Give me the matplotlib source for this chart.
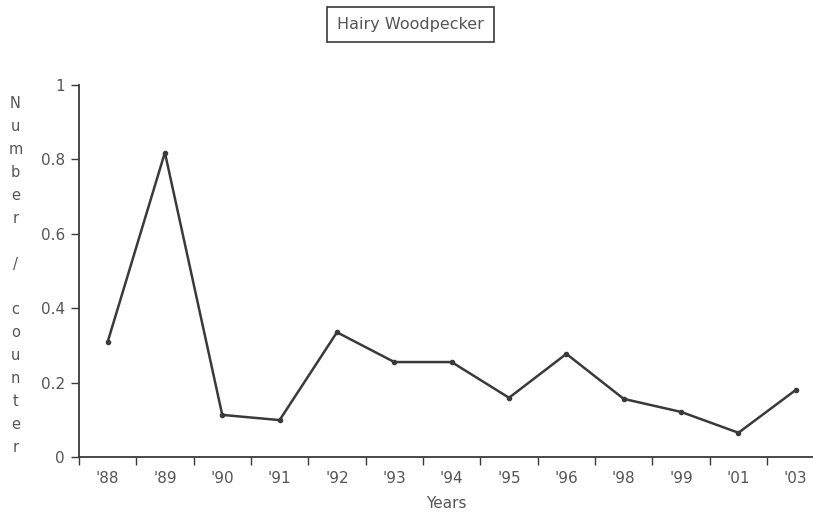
import matplotlib.pyplot as plt
from matplotlib.ticker import FixedLocator

years = ["'88", "'89", "'90", "'91", "'92", "'93", "'94", "'95", "'96", "'98", "'99", "'01", "'03"]
counts = [0.308, 0.818, 0.113, 0.099, 0.335, 0.255, 0.255, 0.159, 0.277, 0.156, 0.121, 0.065, 0.180]
y_ticks = [0, 0.2, 0.4, 0.6, 0.8, 1]
y_tick_labels = ["0", "0.2", "0.4", "0.6", "0.8", "1"]

ink = '#3a3a3a'
text_col = '#555555'

fig = plt.figure(figsize=(8.13, 5.14), dpi=100)
ax = fig.add_axes([0.097, 0.111, 0.903, 0.724])

x = list(range(len(years)))
ax.plot(x, counts, color=ink, linewidth=1.8, marker='o', markersize=3)

ax.set_xlim(-0.5, 12.3)
ax.set_ylim(0, 1)

# category labels in the middle, tick marks on the boundaries
ax.set_xticks(x)
ax.set_xticklabels(years, fontsize=11, color=text_col)
ax.tick_params(axis='x', which='major', length=0, pad=10)
ax.xaxis.set_minor_locator(FixedLocator([i - 0.5 for i in range(len(years) + 1)]))
ax.tick_params(axis='x', which='minor', length=6, width=1, color=ink, direction='out')

ax.set_yticks(y_ticks)
ax.set_yticklabels(y_tick_labels, fontsize=11, color=text_col)
ax.tick_params(axis='y', length=6, width=1, color=ink, direction='out', pad=4)

for side in ['top', 'right']:
    ax.spines[side].set_visible(False)
for side in ['left', 'bottom']:
    ax.spines[side].set_color(ink)
    ax.spines[side].set_linewidth(1.3)

ax.set_xlabel("Years", fontsize=11, color=text_col, labelpad=7)

# stacked vertical y label
fig.text(0.019, 0.464, "N\nu\nm\nb\ne\nr\n\n/\n\nc\no\nu\nn\nt\ne\nr",
         ha='center', va='center', fontsize=10.5, color=text_col, linespacing=1.66)

fig.text(0.505, 0.953, "Hairy Woodpecker", ha='center', va='center', fontsize=11.5, color=text_col,
         bbox=dict(boxstyle='square,pad=0.62', facecolor='white', edgecolor=ink, linewidth=1.2))

fig.savefig('out.png', dpi=100)
